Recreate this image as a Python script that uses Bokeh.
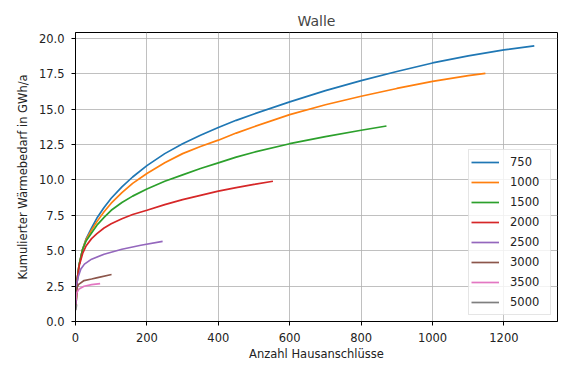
from bokeh.plotting import figure
from bokeh.models import Range1d, FixedTicker, NumeralTickFormatter, Legend, LegendItem
from bokeh.embed import file_html
from bokeh.resources import INLINE

# Data
series_names = ["750", "1000", "1500", "2000", "2500", "3000", "3500", "5000"]
colors = ["#1f77b4", "#ff7f0e", "#2ca02c", "#d62728", "#9467bd", "#8c564b", "#e377c2", "#7f7f7f"]

x_750 = [1, 5, 10, 20, 30, 45, 60, 80, 100, 130, 160, 200, 250, 300, 350, 400, 450, 500, 600, 700, 800, 900, 1000, 1100, 1200, 1285]
y_750 = [1.0, 3.0, 4.0, 5.1, 5.85, 6.6, 7.3, 8.05, 8.7, 9.5, 10.2, 11.0, 11.85, 12.55, 13.15, 13.7, 14.2, 14.65, 15.5, 16.3, 17.0, 17.65, 18.25, 18.75, 19.17, 19.45]

x_1000 = [1, 5, 10, 20, 30, 45, 60, 80, 100, 130, 160, 200, 250, 300, 350, 400, 450, 500, 600, 700, 800, 900, 1000, 1100, 1148]
y_1000 = [1.0, 3.0, 4.0, 5.1, 5.8, 6.45, 7.05, 7.75, 8.35, 9.1, 9.75, 10.45, 11.2, 11.85, 12.35, 12.8, 13.3, 13.75, 14.6, 15.3, 15.9, 16.45, 16.95, 17.35, 17.52]

x_1500 = [1, 5, 10, 20, 30, 45, 60, 80, 100, 130, 160, 200, 250, 300, 350, 400, 450, 500, 600, 700, 800, 871]
y_1500 = [1.0, 3.0, 4.0, 5.1, 5.7, 6.25, 6.8, 7.35, 7.85, 8.4, 8.85, 9.35, 9.9, 10.35, 10.8, 11.2, 11.6, 11.95, 12.55, 13.05, 13.5, 13.8]

x_2000 = [1, 5, 10, 20, 30, 45, 60, 80, 100, 130, 160, 200, 250, 300, 350, 400, 450, 500, 553]
y_2000 = [1.0, 3.0, 3.9, 4.8, 5.35, 5.85, 6.2, 6.6, 6.9, 7.25, 7.55, 7.85, 8.25, 8.6, 8.9, 9.2, 9.45, 9.68, 9.9]

x_2500 = [1, 3, 8, 15, 25, 45, 80, 130, 183, 244]
y_2500 = [1.2, 2.6, 3.2, 3.7, 4.05, 4.4, 4.75, 5.1, 5.38, 5.65]

x_3000 = [1, 3, 8, 24, 45, 62, 101]
y_3000 = [1.6, 2.3, 2.6, 2.89, 3.0, 3.1, 3.32]

x_3500 = [1, 3, 10, 24, 45, 69]
y_3500 = [1.5, 2.0, 2.3, 2.49, 2.6, 2.68]

x_5000 = [1, 2, 3]
y_5000 = [0.8, 1.0, 1.2]

xs = [x_750, x_1000, x_1500, x_2000, x_2500, x_3000, x_3500, x_5000]
ys = [y_750, y_1000, y_1500, y_2000, y_2500, y_3000, y_3500, y_5000]

x_ticks = [0, 200, 400, 600, 800, 1000, 1200]
y_ticks = [0, 2.5, 5, 7.5, 10, 12.5, 15, 17.5, 20]

FONT = "DejaVu Sans"

p = figure(width=559, height=370, output_backend="svg", toolbar_location=None,
           x_range=Range1d(0, 1350), y_range=Range1d(0, 20.4),
           min_border_left=75, min_border_right=2, min_border_top=32, min_border_bottom=49,
           title="Walle")

p.title.align = "center"
p.title.text_font = FONT
p.title.text_font_size = "14px"
p.title.text_font_style = "normal"
p.title.standoff = 7

p.outline_line_color = "black"
p.outline_line_width = 1
p.outline_line_alpha = 1

for ax in (p.xaxis[0], p.yaxis[0]):
    ax.axis_line_color = "black"
    ax.major_tick_line_color = "black"
    ax.major_tick_out = 4
    ax.major_tick_in = 0
    ax.minor_tick_line_color = None
    ax.major_label_text_font = FONT
    ax.major_label_text_font_size = "11.5px"
    ax.major_label_text_color = "#222222"
    ax.axis_label_text_font = FONT
    ax.axis_label_text_font_size = "11.5px"
    ax.axis_label_text_font_style = "normal"
    ax.axis_label_text_color = "#222222"

p.xaxis.ticker = FixedTicker(ticks=x_ticks)
p.yaxis.ticker = FixedTicker(ticks=y_ticks)
p.yaxis.formatter = NumeralTickFormatter(format="0.0")
p.xaxis.axis_label = "Anzahl Hausanschlüsse"
p.yaxis.axis_label = "Kumulierter Wärmebedarf in GWh/a"
p.xaxis.major_label_standoff = 7
p.yaxis.major_label_standoff = 7
p.xaxis.axis_label_standoff = 2
p.yaxis.axis_label_standoff = 6

p.xgrid.grid_line_color = "#b0b0b0"
p.ygrid.grid_line_color = "#b0b0b0"
p.xgrid.grid_line_width = 1
p.ygrid.grid_line_width = 1
p.xgrid.grid_line_alpha = 0.8
p.ygrid.grid_line_alpha = 0.8

items = []
for name, c, x, y in zip(series_names, colors, xs, ys):
    r = p.line(x, y, line_color=c, line_width=1.7)
    items.append(LegendItem(label=name, renderers=[r]))

legend = Legend(items=items, location="bottom_right")
legend.label_text_font = FONT
legend.label_text_font_size = "11.5px"
legend.label_text_color = "#222222"
legend.glyph_width = 28
legend.glyph_height = 20
legend.label_height = 20
legend.label_width = 38
legend.label_standoff = 11
legend.spacing = 0
legend.padding = 2
legend.margin = 6
legend.border_line_color = "#cccccc"
legend.border_line_width = 1
legend.background_fill_color = "white"
legend.background_fill_alpha = 0.8
p.add_layout(legend, "center")

open("out.html", "w").write(file_html(p, INLINE))
